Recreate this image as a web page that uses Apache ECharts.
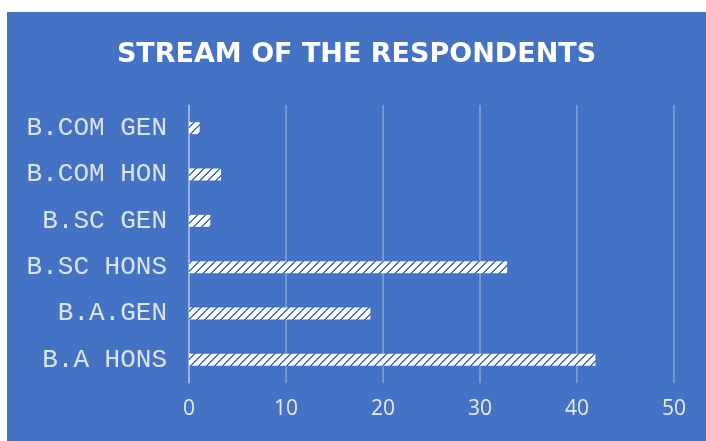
<!DOCTYPE html>
<html>
<head>
<meta charset="utf-8">
<script src="https://cdn.jsdelivr.net/npm/echarts@6/dist/echarts.min.js"></script>
<style>
html,body{margin:0;padding:0;background:#ffffff;width:706px;height:441px;overflow:hidden;}
#chart{position:absolute;left:7px;top:12px;width:699px;height:429px;}
</style>
</head>
<body>
<div id="chart"></div>
<script>
const titleText = 'STREAM OF THE RESPONDENTS';
const categories = ['B.A HONS', 'B.A.GEN', 'B.SC HONS', 'B.SC GEN', 'B.COM HON', 'B.COM GEN'];
const values = [41.9, 18.7, 32.8, 2.2, 3.3, 1.1];
const xTicks = [0, 10, 20, 30, 40, 50];

const BLUE = '#4472C4';

function makePattern() {
  const c = document.createElement('canvas');
  c.width = 8; c.height = 8;
  const ctx = c.getContext('2d');
  const img = ctx.createImageData(8, 8);
  for (let y = 0; y < 8; y++) {
    for (let x = 0; x < 8; x++) {
      const k = (x + y) % 8;
      const blue = (k === 0 || k === 1);
      const i = (y * 8 + x) * 4;
      if (blue) { img.data[i]=0x44; img.data[i+1]=0x72; img.data[i+2]=0xC4; }
      else { img.data[i]=255; img.data[i+1]=255; img.data[i+2]=255; }
      img.data[i+3]=255;
    }
  }
  ctx.putImageData(img, 0, 0);
  return c;
}

const chart = echarts.init(document.getElementById('chart'), null, {renderer: 'canvas'});
chart.setOption({
  backgroundColor: BLUE,
  animation: false,
  title: {
    text: titleText,
    left: 'center',
    top: 24,
    textStyle: {color: '#ffffff', fontFamily: 'DejaVu Sans', fontWeight: 'bold', fontSize: 27}
  },
  grid: {left: 182, right: 32, top: 93, bottom: 58, containLabel: false},
  xAxis: {
    type: 'value',
    min: xTicks[0],
    max: xTicks[xTicks.length - 1],
    interval: 10,
    axisLine: {show: false},
    axisTick: {show: false},
    splitLine: {show: true, lineStyle: {color: 'rgba(255,255,255,0.35)', width: 1.5}},
    axisLabel: {color: '#e6ecf7', fontFamily: 'Open Sans', fontSize: 21, margin: 16}
  },
  yAxis: {
    type: 'category',
    data: categories,
    axisLine: {show: true, lineStyle: {color: 'rgba(255,255,255,0.35)', width: 1.5}},
    axisTick: {show: false},
    splitLine: {show: false},
    axisLabel: {color: '#dde4f1', fontFamily: 'Liberation Mono', fontSize: 26, margin: 22}
  },
  series: [{
    type: 'bar',
    data: values,
    barWidth: 12,
    itemStyle: {color: {image: makePattern(), repeat: 'repeat'}}
  }]
});
</script>
</body>
</html>
